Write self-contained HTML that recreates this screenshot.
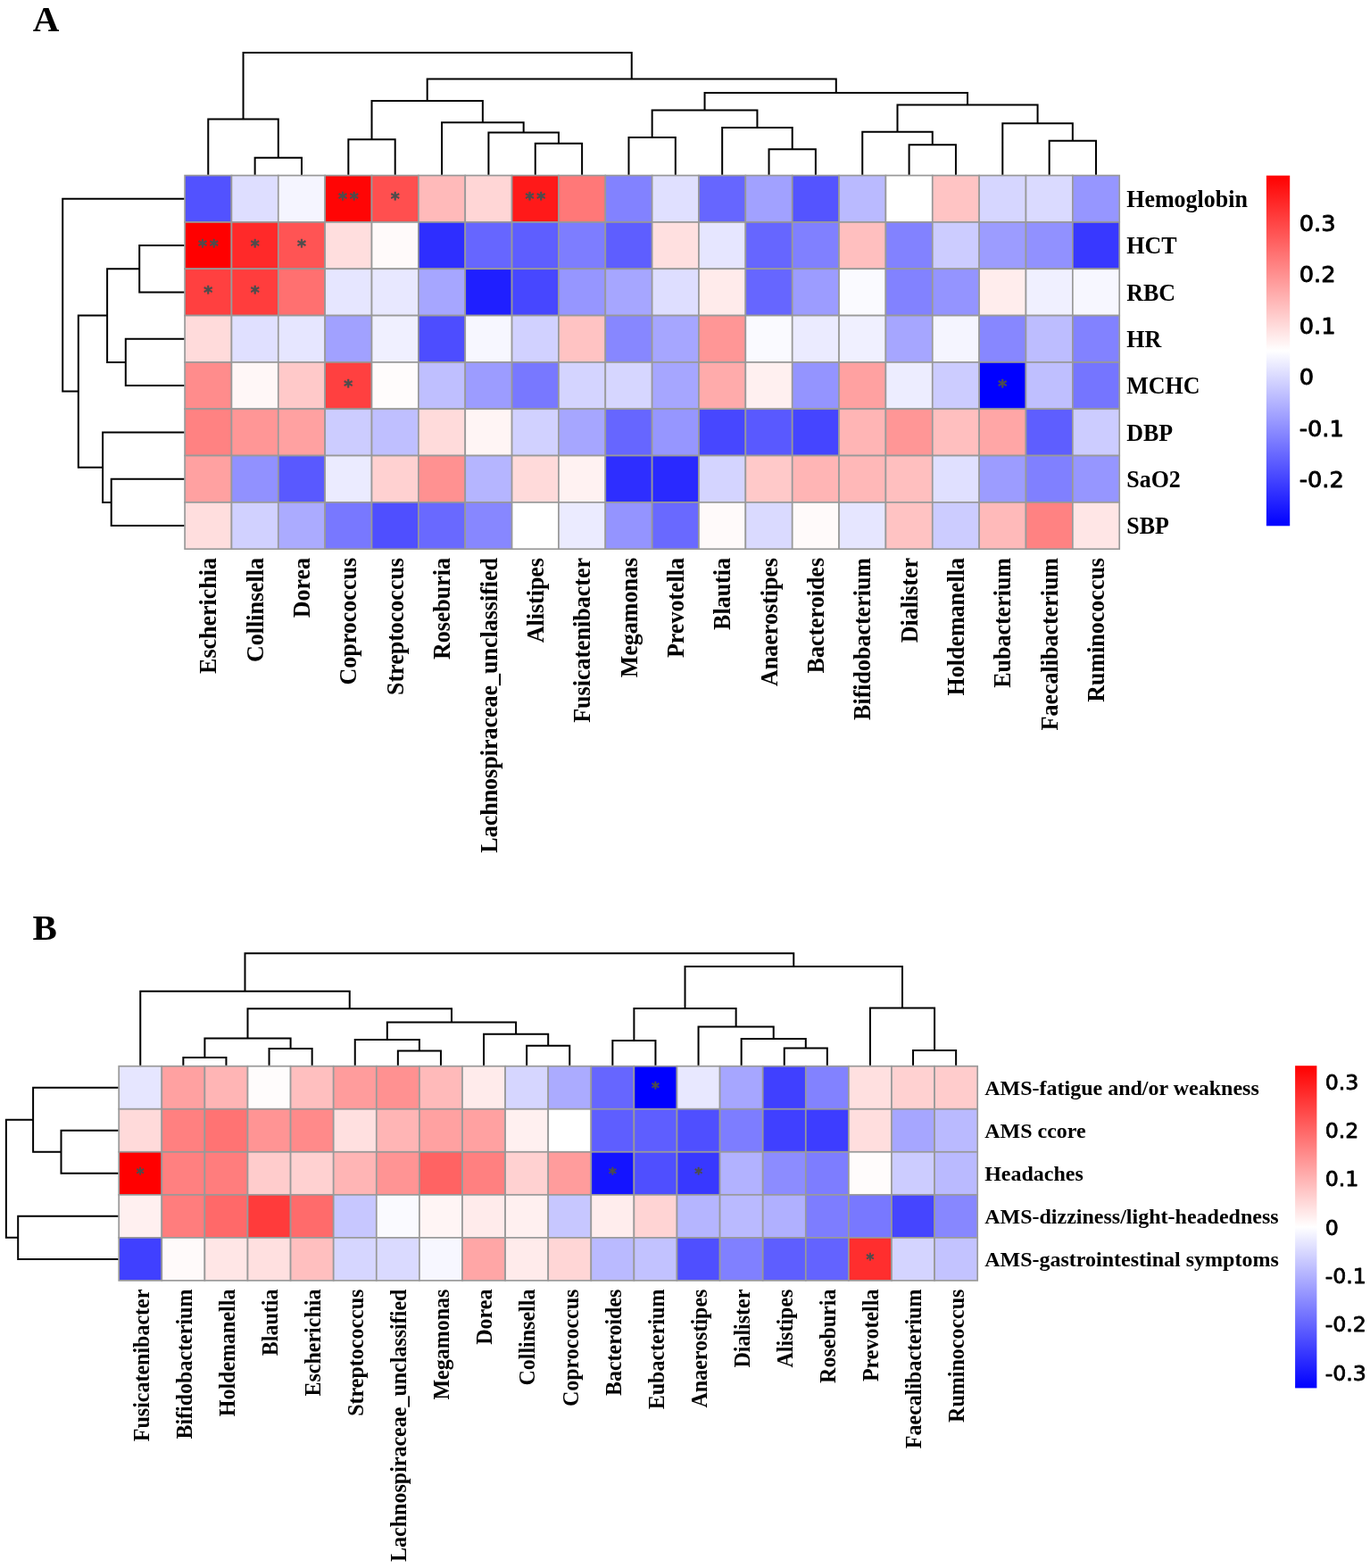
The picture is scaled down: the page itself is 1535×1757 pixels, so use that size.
<!DOCTYPE html>
<html lang="en">
<head>
<meta charset="utf-8">
<title>Correlation heatmaps</title>
<style>
html,body{margin:0;padding:0;background:#fff;}
body{width:1535px;height:1757px;overflow:hidden;}
svg{display:block;}
</style>
</head>
<body>
<svg width="1535" height="1757" viewBox="0 0 1535 1757" role="img" aria-label="Clustered correlation heatmaps, panels A and B">
<defs>
<linearGradient id="gA" x1="0" y1="0" x2="0" y2="1"><stop offset="0" stop-color="#ff0000"/><stop offset="0.5" stop-color="#ffffff"/><stop offset="1" stop-color="#0000ff"/></linearGradient>
<linearGradient id="gB" x1="0" y1="0" x2="0" y2="1"><stop offset="0" stop-color="#ff0000"/><stop offset="0.5" stop-color="#ffffff"/><stop offset="1" stop-color="#0000ff"/></linearGradient>
</defs>
<rect width="1535" height="1757" fill="#fff"/>
<g id="panelA">
<g stroke="#999999" stroke-width="1.7">
<rect x="207.1" y="196.6" width="52.36" height="52.33" fill="#5252ff"/>
<rect x="259.45" y="196.6" width="52.36" height="52.33" fill="#dedeff"/>
<rect x="311.81" y="196.6" width="52.36" height="52.33" fill="#f5f5ff"/>
<rect x="364.16" y="196.6" width="52.36" height="52.33" fill="#ff0505"/>
<rect x="416.52" y="196.6" width="52.36" height="52.33" fill="#ff4f4f"/>
<rect x="468.88" y="196.6" width="52.36" height="52.33" fill="#ffbaba"/>
<rect x="521.23" y="196.6" width="52.36" height="52.33" fill="#ffd6d6"/>
<rect x="573.59" y="196.6" width="52.36" height="52.33" fill="#ff1919"/>
<rect x="625.94" y="196.6" width="52.36" height="52.33" fill="#ff7878"/>
<rect x="678.3" y="196.6" width="52.36" height="52.33" fill="#8282ff"/>
<rect x="730.65" y="196.6" width="52.36" height="52.33" fill="#e0e0ff"/>
<rect x="783.01" y="196.6" width="52.36" height="52.33" fill="#6666ff"/>
<rect x="835.36" y="196.6" width="52.36" height="52.33" fill="#a1a1ff"/>
<rect x="887.72" y="196.6" width="52.36" height="52.33" fill="#5454ff"/>
<rect x="940.07" y="196.6" width="52.36" height="52.33" fill="#babaff"/>
<rect x="992.43" y="196.6" width="52.36" height="52.33" fill="#ffffff"/>
<rect x="1044.78" y="196.6" width="52.36" height="52.33" fill="#ffc4c4"/>
<rect x="1097.13" y="196.6" width="52.36" height="52.33" fill="#d6d6ff"/>
<rect x="1149.49" y="196.6" width="52.36" height="52.33" fill="#dadaff"/>
<rect x="1201.85" y="196.6" width="52.36" height="52.33" fill="#9696ff"/>
<rect x="207.1" y="248.93" width="52.36" height="52.33" fill="#ff0000"/>
<rect x="259.45" y="248.93" width="52.36" height="52.33" fill="#ff2929"/>
<rect x="311.81" y="248.93" width="52.36" height="52.33" fill="#ff5454"/>
<rect x="364.16" y="248.93" width="52.36" height="52.33" fill="#ffdede"/>
<rect x="416.52" y="248.93" width="52.36" height="52.33" fill="#fffafa"/>
<rect x="468.88" y="248.93" width="52.36" height="52.33" fill="#2e2eff"/>
<rect x="521.23" y="248.93" width="52.36" height="52.33" fill="#6666ff"/>
<rect x="573.59" y="248.93" width="52.36" height="52.33" fill="#5e5eff"/>
<rect x="625.94" y="248.93" width="52.36" height="52.33" fill="#7d7dff"/>
<rect x="678.3" y="248.93" width="52.36" height="52.33" fill="#5e5eff"/>
<rect x="730.65" y="248.93" width="52.36" height="52.33" fill="#ffe0e0"/>
<rect x="783.01" y="248.93" width="52.36" height="52.33" fill="#e6e6ff"/>
<rect x="835.36" y="248.93" width="52.36" height="52.33" fill="#6666ff"/>
<rect x="887.72" y="248.93" width="52.36" height="52.33" fill="#8080ff"/>
<rect x="940.07" y="248.93" width="52.36" height="52.33" fill="#ffbfbf"/>
<rect x="992.43" y="248.93" width="52.36" height="52.33" fill="#8282ff"/>
<rect x="1044.78" y="248.93" width="52.36" height="52.33" fill="#ccccff"/>
<rect x="1097.13" y="248.93" width="52.36" height="52.33" fill="#9c9cff"/>
<rect x="1149.49" y="248.93" width="52.36" height="52.33" fill="#9191ff"/>
<rect x="1201.85" y="248.93" width="52.36" height="52.33" fill="#3838ff"/>
<rect x="207.1" y="301.25" width="52.36" height="52.33" fill="#ff4040"/>
<rect x="259.45" y="301.25" width="52.36" height="52.33" fill="#ff3d3d"/>
<rect x="311.81" y="301.25" width="52.36" height="52.33" fill="#ff7070"/>
<rect x="364.16" y="301.25" width="52.36" height="52.33" fill="#e6e6ff"/>
<rect x="416.52" y="301.25" width="52.36" height="52.33" fill="#e8e8ff"/>
<rect x="468.88" y="301.25" width="52.36" height="52.33" fill="#a6a6ff"/>
<rect x="521.23" y="301.25" width="52.36" height="52.33" fill="#1f1fff"/>
<rect x="573.59" y="301.25" width="52.36" height="52.33" fill="#4747ff"/>
<rect x="625.94" y="301.25" width="52.36" height="52.33" fill="#9696ff"/>
<rect x="678.3" y="301.25" width="52.36" height="52.33" fill="#a6a6ff"/>
<rect x="730.65" y="301.25" width="52.36" height="52.33" fill="#dedeff"/>
<rect x="783.01" y="301.25" width="52.36" height="52.33" fill="#ffebeb"/>
<rect x="835.36" y="301.25" width="52.36" height="52.33" fill="#6666ff"/>
<rect x="887.72" y="301.25" width="52.36" height="52.33" fill="#9c9cff"/>
<rect x="940.07" y="301.25" width="52.36" height="52.33" fill="#fafaff"/>
<rect x="992.43" y="301.25" width="52.36" height="52.33" fill="#8282ff"/>
<rect x="1044.78" y="301.25" width="52.36" height="52.33" fill="#9494ff"/>
<rect x="1097.13" y="301.25" width="52.36" height="52.33" fill="#ffeded"/>
<rect x="1149.49" y="301.25" width="52.36" height="52.33" fill="#f0f0ff"/>
<rect x="1201.85" y="301.25" width="52.36" height="52.33" fill="#f7f7ff"/>
<rect x="207.1" y="353.58" width="52.36" height="52.33" fill="#ffdbdb"/>
<rect x="259.45" y="353.58" width="52.36" height="52.33" fill="#e0e0ff"/>
<rect x="311.81" y="353.58" width="52.36" height="52.33" fill="#e6e6ff"/>
<rect x="364.16" y="353.58" width="52.36" height="52.33" fill="#a1a1ff"/>
<rect x="416.52" y="353.58" width="52.36" height="52.33" fill="#f0f0ff"/>
<rect x="468.88" y="353.58" width="52.36" height="52.33" fill="#4d4dff"/>
<rect x="521.23" y="353.58" width="52.36" height="52.33" fill="#f7f7ff"/>
<rect x="573.59" y="353.58" width="52.36" height="52.33" fill="#d1d1ff"/>
<rect x="625.94" y="353.58" width="52.36" height="52.33" fill="#ffc3c3"/>
<rect x="678.3" y="353.58" width="52.36" height="52.33" fill="#8787ff"/>
<rect x="730.65" y="353.58" width="52.36" height="52.33" fill="#a6a6ff"/>
<rect x="783.01" y="353.58" width="52.36" height="52.33" fill="#ff9696"/>
<rect x="835.36" y="353.58" width="52.36" height="52.33" fill="#fafaff"/>
<rect x="887.72" y="353.58" width="52.36" height="52.33" fill="#ebebff"/>
<rect x="940.07" y="353.58" width="52.36" height="52.33" fill="#f0f0ff"/>
<rect x="992.43" y="353.58" width="52.36" height="52.33" fill="#a6a6ff"/>
<rect x="1044.78" y="353.58" width="52.36" height="52.33" fill="#f5f5ff"/>
<rect x="1097.13" y="353.58" width="52.36" height="52.33" fill="#8787ff"/>
<rect x="1149.49" y="353.58" width="52.36" height="52.33" fill="#bdbdff"/>
<rect x="1201.85" y="353.58" width="52.36" height="52.33" fill="#8282ff"/>
<rect x="207.1" y="405.9" width="52.36" height="52.33" fill="#ff8c8c"/>
<rect x="259.45" y="405.9" width="52.36" height="52.33" fill="#fff7f7"/>
<rect x="311.81" y="405.9" width="52.36" height="52.33" fill="#ffc9c9"/>
<rect x="364.16" y="405.9" width="52.36" height="52.33" fill="#ff4040"/>
<rect x="416.52" y="405.9" width="52.36" height="52.33" fill="#fffcfc"/>
<rect x="468.88" y="405.9" width="52.36" height="52.33" fill="#bfbfff"/>
<rect x="521.23" y="405.9" width="52.36" height="52.33" fill="#9c9cff"/>
<rect x="573.59" y="405.9" width="52.36" height="52.33" fill="#7878ff"/>
<rect x="625.94" y="405.9" width="52.36" height="52.33" fill="#d4d4ff"/>
<rect x="678.3" y="405.9" width="52.36" height="52.33" fill="#d6d6ff"/>
<rect x="730.65" y="405.9" width="52.36" height="52.33" fill="#a6a6ff"/>
<rect x="783.01" y="405.9" width="52.36" height="52.33" fill="#ffabab"/>
<rect x="835.36" y="405.9" width="52.36" height="52.33" fill="#fff0f0"/>
<rect x="887.72" y="405.9" width="52.36" height="52.33" fill="#9494ff"/>
<rect x="940.07" y="405.9" width="52.36" height="52.33" fill="#ffa1a1"/>
<rect x="992.43" y="405.9" width="52.36" height="52.33" fill="#ededff"/>
<rect x="1044.78" y="405.9" width="52.36" height="52.33" fill="#ccccff"/>
<rect x="1097.13" y="405.9" width="52.36" height="52.33" fill="#0000ff"/>
<rect x="1149.49" y="405.9" width="52.36" height="52.33" fill="#bfbfff"/>
<rect x="1201.85" y="405.9" width="52.36" height="52.33" fill="#7575ff"/>
<rect x="207.1" y="458.23" width="52.36" height="52.33" fill="#ff8282"/>
<rect x="259.45" y="458.23" width="52.36" height="52.33" fill="#ff9696"/>
<rect x="311.81" y="458.23" width="52.36" height="52.33" fill="#ffa1a1"/>
<rect x="364.16" y="458.23" width="52.36" height="52.33" fill="#ccccff"/>
<rect x="416.52" y="458.23" width="52.36" height="52.33" fill="#bfbfff"/>
<rect x="468.88" y="458.23" width="52.36" height="52.33" fill="#ffdbdb"/>
<rect x="521.23" y="458.23" width="52.36" height="52.33" fill="#fff5f5"/>
<rect x="573.59" y="458.23" width="52.36" height="52.33" fill="#d1d1ff"/>
<rect x="625.94" y="458.23" width="52.36" height="52.33" fill="#a6a6ff"/>
<rect x="678.3" y="458.23" width="52.36" height="52.33" fill="#6666ff"/>
<rect x="730.65" y="458.23" width="52.36" height="52.33" fill="#9696ff"/>
<rect x="783.01" y="458.23" width="52.36" height="52.33" fill="#4747ff"/>
<rect x="835.36" y="458.23" width="52.36" height="52.33" fill="#5959ff"/>
<rect x="887.72" y="458.23" width="52.36" height="52.33" fill="#4545ff"/>
<rect x="940.07" y="458.23" width="52.36" height="52.33" fill="#ffb5b5"/>
<rect x="992.43" y="458.23" width="52.36" height="52.33" fill="#ff9696"/>
<rect x="1044.78" y="458.23" width="52.36" height="52.33" fill="#ffbfbf"/>
<rect x="1097.13" y="458.23" width="52.36" height="52.33" fill="#ffa6a6"/>
<rect x="1149.49" y="458.23" width="52.36" height="52.33" fill="#5e5eff"/>
<rect x="1201.85" y="458.23" width="52.36" height="52.33" fill="#ccccff"/>
<rect x="207.1" y="510.55" width="52.36" height="52.33" fill="#ffa1a1"/>
<rect x="259.45" y="510.55" width="52.36" height="52.33" fill="#9191ff"/>
<rect x="311.81" y="510.55" width="52.36" height="52.33" fill="#5959ff"/>
<rect x="364.16" y="510.55" width="52.36" height="52.33" fill="#ebebff"/>
<rect x="416.52" y="510.55" width="52.36" height="52.33" fill="#ffd1d1"/>
<rect x="468.88" y="510.55" width="52.36" height="52.33" fill="#ff9191"/>
<rect x="521.23" y="510.55" width="52.36" height="52.33" fill="#b5b5ff"/>
<rect x="573.59" y="510.55" width="52.36" height="52.33" fill="#ffdada"/>
<rect x="625.94" y="510.55" width="52.36" height="52.33" fill="#fff2f2"/>
<rect x="678.3" y="510.55" width="52.36" height="52.33" fill="#2e2eff"/>
<rect x="730.65" y="510.55" width="52.36" height="52.33" fill="#2929ff"/>
<rect x="783.01" y="510.55" width="52.36" height="52.33" fill="#d4d4ff"/>
<rect x="835.36" y="510.55" width="52.36" height="52.33" fill="#ffc9c9"/>
<rect x="887.72" y="510.55" width="52.36" height="52.33" fill="#ffb5b5"/>
<rect x="940.07" y="510.55" width="52.36" height="52.33" fill="#ffb8b8"/>
<rect x="992.43" y="510.55" width="52.36" height="52.33" fill="#ffbfbf"/>
<rect x="1044.78" y="510.55" width="52.36" height="52.33" fill="#e0e0ff"/>
<rect x="1097.13" y="510.55" width="52.36" height="52.33" fill="#9c9cff"/>
<rect x="1149.49" y="510.55" width="52.36" height="52.33" fill="#8080ff"/>
<rect x="1201.85" y="510.55" width="52.36" height="52.33" fill="#9696ff"/>
<rect x="207.1" y="562.88" width="52.36" height="52.33" fill="#ffdede"/>
<rect x="259.45" y="562.88" width="52.36" height="52.33" fill="#d1d1ff"/>
<rect x="311.81" y="562.88" width="52.36" height="52.33" fill="#ababff"/>
<rect x="364.16" y="562.88" width="52.36" height="52.33" fill="#7878ff"/>
<rect x="416.52" y="562.88" width="52.36" height="52.33" fill="#4f4fff"/>
<rect x="468.88" y="562.88" width="52.36" height="52.33" fill="#6969ff"/>
<rect x="521.23" y="562.88" width="52.36" height="52.33" fill="#8787ff"/>
<rect x="573.59" y="562.88" width="52.36" height="52.33" fill="#ffffff"/>
<rect x="625.94" y="562.88" width="52.36" height="52.33" fill="#ebebff"/>
<rect x="678.3" y="562.88" width="52.36" height="52.33" fill="#9494ff"/>
<rect x="730.65" y="562.88" width="52.36" height="52.33" fill="#6969ff"/>
<rect x="783.01" y="562.88" width="52.36" height="52.33" fill="#fffafa"/>
<rect x="835.36" y="562.88" width="52.36" height="52.33" fill="#dadaff"/>
<rect x="887.72" y="562.88" width="52.36" height="52.33" fill="#fffafa"/>
<rect x="940.07" y="562.88" width="52.36" height="52.33" fill="#e6e6ff"/>
<rect x="992.43" y="562.88" width="52.36" height="52.33" fill="#ffc3c3"/>
<rect x="1044.78" y="562.88" width="52.36" height="52.33" fill="#ccccff"/>
<rect x="1097.13" y="562.88" width="52.36" height="52.33" fill="#ffbaba"/>
<rect x="1149.49" y="562.88" width="52.36" height="52.33" fill="#ff8282"/>
<rect x="1201.85" y="562.88" width="52.36" height="52.33" fill="#ffe6e6"/>
</g>
<g font-family="'DejaVu Sans', 'Liberation Sans', sans-serif" font-weight="bold" font-size="19" fill="#4d4d4d" stroke="#4d4d4d" stroke-width="0.6" stroke-linejoin="round" text-anchor="middle">
<text x="383.94 396.74" y="229.45">**</text>
<text x="442.7" y="229.45">*</text>
<text x="593.36 606.16" y="229.45">**</text>
<text x="226.88 239.68" y="281.78">**</text>
<text x="285.63" y="281.78">*</text>
<text x="337.99" y="281.78">*</text>
<text x="233.28" y="334.1">*</text>
<text x="285.63" y="334.1">*</text>
<text x="390.34" y="438.75">*</text>
<text x="1123.31" y="438.75">*</text>
</g>
<path d="M285.63 195.75V176.75H337.99V195.75M233.28 195.75V133.5H311.81V176.75M390.34 195.75V156.25H442.7V195.75M599.76 195.75V160.75H652.12V195.75M547.41 195.75V148.5H625.94V160.75M495.05 195.75V137.25H586.67V148.5M416.52 156.25V113H540.86V137.25M704.47 195.75V154H756.83V195.75M861.54 195.75V167.25H913.89V195.75M809.18 195.75V143H887.72V167.25M730.65 154V123.5H848.45V143M1018.6 195.75V162.25H1070.96V195.75M966.25 195.75V147.75H1044.78V162.25M1175.67 195.75V157.75H1228.02V195.75M1123.31 195.75V138.25H1201.85V157.75M1005.51 147.75V117.5H1162.58V138.25M789.55 123.5V104H1084.05V117.5M478.69 113V88.5H936.8V104M272.54 133.5V59H707.74V88.5M206.25 275.09H156.2V327.41H206.25M206.25 379.74H140.8V432.06H206.25M156.2 301.25H120.1V405.9H140.8M206.25 536.71H124.7V589.04H206.25M206.25 484.39H115.1V562.88H124.7M120.1 353.57H87.8V523.63H115.1M206.25 222.76H70.2V438.6H87.8" fill="none" stroke="#000" stroke-width="2.0" stroke-linejoin="miter"/>
<g font-family="'Liberation Serif', 'DejaVu Serif', serif" font-weight="bold" font-size="26.6" fill="#000">
<text transform="translate(1262.2 231.87) scale(0.977 1)">Hemoglobin</text>
<text transform="translate(1262.2 284.2) scale(0.977 1)">HCT</text>
<text transform="translate(1262.2 336.52) scale(0.977 1)">RBC</text>
<text transform="translate(1262.2 388.85) scale(0.977 1)">HR</text>
<text transform="translate(1262.2 441.17) scale(0.977 1)">MCHC</text>
<text transform="translate(1262.2 493.5) scale(0.977 1)">DBP</text>
<text transform="translate(1262.2 545.82) scale(0.977 1)">SaO2</text>
<text transform="translate(1262.2 598.15) scale(0.977 1)">SBP</text>
</g>
<g font-family="'Liberation Serif', 'DejaVu Serif', serif" font-weight="bold" font-size="27.2" fill="#000" text-anchor="end">
<text transform="translate(242.39 625) rotate(-90) scale(0.956 1)">Escherichia</text>
<text transform="translate(294.74 625) rotate(-90) scale(0.956 1)">Collinsella</text>
<text transform="translate(347.1 625) rotate(-90) scale(0.956 1)">Dorea</text>
<text transform="translate(399.45 625) rotate(-90) scale(0.956 1)">Coprococcus</text>
<text transform="translate(451.81 625) rotate(-90) scale(0.956 1)">Streptococcus</text>
<text transform="translate(504.16 625) rotate(-90) scale(0.956 1)">Roseburia</text>
<text transform="translate(556.52 625) rotate(-90) scale(0.956 1)">Lachnospiraceae_unclassified</text>
<text transform="translate(608.87 625) rotate(-90) scale(0.956 1)">Alistipes</text>
<text transform="translate(661.23 625) rotate(-90) scale(0.956 1)">Fusicatenibacter</text>
<text transform="translate(713.58 625) rotate(-90) scale(0.956 1)">Megamonas</text>
<text transform="translate(765.94 625) rotate(-90) scale(0.956 1)">Prevotella</text>
<text transform="translate(818.29 625) rotate(-90) scale(0.956 1)">Blautia</text>
<text transform="translate(870.65 625) rotate(-90) scale(0.956 1)">Anaerostipes</text>
<text transform="translate(923 625) rotate(-90) scale(0.956 1)">Bacteroides</text>
<text transform="translate(975.36 625) rotate(-90) scale(0.956 1)">Bifidobacterium</text>
<text transform="translate(1027.71 625) rotate(-90) scale(0.956 1)">Dialister</text>
<text transform="translate(1080.07 625) rotate(-90) scale(0.956 1)">Holdemanella</text>
<text transform="translate(1132.42 625) rotate(-90) scale(0.956 1)">Eubacterium</text>
<text transform="translate(1184.78 625) rotate(-90) scale(0.956 1)">Faecalibacterium</text>
<text transform="translate(1237.13 625) rotate(-90) scale(0.956 1)">Ruminococcus</text>
</g>
<rect x="1418.9" y="196.7" width="26.3" height="392.6" fill="url(#gA)"/>
<g font-family="'DejaVu Sans', 'Liberation Sans', sans-serif" font-size="24" fill="#000" stroke="#000" stroke-width="0.8" stroke-linejoin="round">
<text transform="translate(1455.7 258.95) scale(1.07 1)">0.3</text>
<text transform="translate(1455.7 316.35) scale(1.07 1)">0.2</text>
<text transform="translate(1455.7 373.75) scale(1.07 1)">0.1</text>
<text transform="translate(1455.7 431.05) scale(1.07 1)">0</text>
<text transform="translate(1455.7 489.05) scale(1.07 1)">-0.1</text>
<text transform="translate(1455.7 546.05) scale(1.07 1)">-0.2</text>
</g>
<text x="36.8" y="34.7" font-family="'Liberation Serif', 'DejaVu Serif', serif" font-weight="bold" font-size="41" fill="#000">A</text>
</g>
<g id="panelB">
<g stroke="#999999" stroke-width="1.7">
<rect x="133.2" y="1194.7" width="48.1" height="48.04" fill="#e6e6ff"/>
<rect x="181.3" y="1194.7" width="48.1" height="48.04" fill="#ffa1a1"/>
<rect x="229.4" y="1194.7" width="48.1" height="48.04" fill="#ffb5b5"/>
<rect x="277.5" y="1194.7" width="48.1" height="48.04" fill="#fffcfc"/>
<rect x="325.6" y="1194.7" width="48.1" height="48.04" fill="#ffbfbf"/>
<rect x="373.7" y="1194.7" width="48.1" height="48.04" fill="#ff9c9c"/>
<rect x="421.8" y="1194.7" width="48.1" height="48.04" fill="#ff9191"/>
<rect x="469.9" y="1194.7" width="48.1" height="48.04" fill="#ffbaba"/>
<rect x="518" y="1194.7" width="48.1" height="48.04" fill="#ffebeb"/>
<rect x="566.1" y="1194.7" width="48.1" height="48.04" fill="#d6d6ff"/>
<rect x="614.2" y="1194.7" width="48.1" height="48.04" fill="#ababff"/>
<rect x="662.3" y="1194.7" width="48.1" height="48.04" fill="#6666ff"/>
<rect x="710.4" y="1194.7" width="48.1" height="48.04" fill="#0000ff"/>
<rect x="758.5" y="1194.7" width="48.1" height="48.04" fill="#e8e8ff"/>
<rect x="806.6" y="1194.7" width="48.1" height="48.04" fill="#a6a6ff"/>
<rect x="854.7" y="1194.7" width="48.1" height="48.04" fill="#4040ff"/>
<rect x="902.8" y="1194.7" width="48.1" height="48.04" fill="#8282ff"/>
<rect x="950.9" y="1194.7" width="48.1" height="48.04" fill="#ffe0e0"/>
<rect x="999" y="1194.7" width="48.1" height="48.04" fill="#ffd1d1"/>
<rect x="1047.1" y="1194.7" width="48.1" height="48.04" fill="#ffcccc"/>
<rect x="133.2" y="1242.74" width="48.1" height="48.04" fill="#ffdada"/>
<rect x="181.3" y="1242.74" width="48.1" height="48.04" fill="#ff8080"/>
<rect x="229.4" y="1242.74" width="48.1" height="48.04" fill="#ff7373"/>
<rect x="277.5" y="1242.74" width="48.1" height="48.04" fill="#ff9494"/>
<rect x="325.6" y="1242.74" width="48.1" height="48.04" fill="#ff8a8a"/>
<rect x="373.7" y="1242.74" width="48.1" height="48.04" fill="#ffe0e0"/>
<rect x="421.8" y="1242.74" width="48.1" height="48.04" fill="#ffb5b5"/>
<rect x="469.9" y="1242.74" width="48.1" height="48.04" fill="#ffa1a1"/>
<rect x="518" y="1242.74" width="48.1" height="48.04" fill="#ffa1a1"/>
<rect x="566.1" y="1242.74" width="48.1" height="48.04" fill="#fff0f0"/>
<rect x="614.2" y="1242.74" width="48.1" height="48.04" fill="#ffffff"/>
<rect x="662.3" y="1242.74" width="48.1" height="48.04" fill="#5e5eff"/>
<rect x="710.4" y="1242.74" width="48.1" height="48.04" fill="#5e5eff"/>
<rect x="758.5" y="1242.74" width="48.1" height="48.04" fill="#4f4fff"/>
<rect x="806.6" y="1242.74" width="48.1" height="48.04" fill="#7d7dff"/>
<rect x="854.7" y="1242.74" width="48.1" height="48.04" fill="#4040ff"/>
<rect x="902.8" y="1242.74" width="48.1" height="48.04" fill="#3d3dff"/>
<rect x="950.9" y="1242.74" width="48.1" height="48.04" fill="#ffdede"/>
<rect x="999" y="1242.74" width="48.1" height="48.04" fill="#a6a6ff"/>
<rect x="1047.1" y="1242.74" width="48.1" height="48.04" fill="#babaff"/>
<rect x="133.2" y="1290.78" width="48.1" height="48.04" fill="#ff0000"/>
<rect x="181.3" y="1290.78" width="48.1" height="48.04" fill="#ff8080"/>
<rect x="229.4" y="1290.78" width="48.1" height="48.04" fill="#ff7d7d"/>
<rect x="277.5" y="1290.78" width="48.1" height="48.04" fill="#ffcccc"/>
<rect x="325.6" y="1290.78" width="48.1" height="48.04" fill="#ffd1d1"/>
<rect x="373.7" y="1290.78" width="48.1" height="48.04" fill="#ffb5b5"/>
<rect x="421.8" y="1290.78" width="48.1" height="48.04" fill="#ff9494"/>
<rect x="469.9" y="1290.78" width="48.1" height="48.04" fill="#ff6363"/>
<rect x="518" y="1290.78" width="48.1" height="48.04" fill="#ff8080"/>
<rect x="566.1" y="1290.78" width="48.1" height="48.04" fill="#ffd1d1"/>
<rect x="614.2" y="1290.78" width="48.1" height="48.04" fill="#ff9c9c"/>
<rect x="662.3" y="1290.78" width="48.1" height="48.04" fill="#1414ff"/>
<rect x="710.4" y="1290.78" width="48.1" height="48.04" fill="#4f4fff"/>
<rect x="758.5" y="1290.78" width="48.1" height="48.04" fill="#3838ff"/>
<rect x="806.6" y="1290.78" width="48.1" height="48.04" fill="#b2b2ff"/>
<rect x="854.7" y="1290.78" width="48.1" height="48.04" fill="#8c8cff"/>
<rect x="902.8" y="1290.78" width="48.1" height="48.04" fill="#7d7dff"/>
<rect x="950.9" y="1290.78" width="48.1" height="48.04" fill="#fffcfc"/>
<rect x="999" y="1290.78" width="48.1" height="48.04" fill="#ccccff"/>
<rect x="1047.1" y="1290.78" width="48.1" height="48.04" fill="#babaff"/>
<rect x="133.2" y="1338.82" width="48.1" height="48.04" fill="#fff0f0"/>
<rect x="181.3" y="1338.82" width="48.1" height="48.04" fill="#ff7d7d"/>
<rect x="229.4" y="1338.82" width="48.1" height="48.04" fill="#ff6969"/>
<rect x="277.5" y="1338.82" width="48.1" height="48.04" fill="#ff3b3b"/>
<rect x="325.6" y="1338.82" width="48.1" height="48.04" fill="#ff6b6b"/>
<rect x="373.7" y="1338.82" width="48.1" height="48.04" fill="#c7c7ff"/>
<rect x="421.8" y="1338.82" width="48.1" height="48.04" fill="#fafaff"/>
<rect x="469.9" y="1338.82" width="48.1" height="48.04" fill="#fff5f5"/>
<rect x="518" y="1338.82" width="48.1" height="48.04" fill="#ffebeb"/>
<rect x="566.1" y="1338.82" width="48.1" height="48.04" fill="#fff0f0"/>
<rect x="614.2" y="1338.82" width="48.1" height="48.04" fill="#c7c7ff"/>
<rect x="662.3" y="1338.82" width="48.1" height="48.04" fill="#ffeded"/>
<rect x="710.4" y="1338.82" width="48.1" height="48.04" fill="#ffd4d4"/>
<rect x="758.5" y="1338.82" width="48.1" height="48.04" fill="#b5b5ff"/>
<rect x="806.6" y="1338.82" width="48.1" height="48.04" fill="#babaff"/>
<rect x="854.7" y="1338.82" width="48.1" height="48.04" fill="#b0b0ff"/>
<rect x="902.8" y="1338.82" width="48.1" height="48.04" fill="#7d7dff"/>
<rect x="950.9" y="1338.82" width="48.1" height="48.04" fill="#7878ff"/>
<rect x="999" y="1338.82" width="48.1" height="48.04" fill="#4545ff"/>
<rect x="1047.1" y="1338.82" width="48.1" height="48.04" fill="#8787ff"/>
<rect x="133.2" y="1386.86" width="48.1" height="48.04" fill="#4040ff"/>
<rect x="181.3" y="1386.86" width="48.1" height="48.04" fill="#fffafa"/>
<rect x="229.4" y="1386.86" width="48.1" height="48.04" fill="#ffe6e6"/>
<rect x="277.5" y="1386.86" width="48.1" height="48.04" fill="#ffe0e0"/>
<rect x="325.6" y="1386.86" width="48.1" height="48.04" fill="#ffbfbf"/>
<rect x="373.7" y="1386.86" width="48.1" height="48.04" fill="#d6d6ff"/>
<rect x="421.8" y="1386.86" width="48.1" height="48.04" fill="#dadaff"/>
<rect x="469.9" y="1386.86" width="48.1" height="48.04" fill="#f7f7ff"/>
<rect x="518" y="1386.86" width="48.1" height="48.04" fill="#ffa6a6"/>
<rect x="566.1" y="1386.86" width="48.1" height="48.04" fill="#ffebeb"/>
<rect x="614.2" y="1386.86" width="48.1" height="48.04" fill="#ffd6d6"/>
<rect x="662.3" y="1386.86" width="48.1" height="48.04" fill="#babaff"/>
<rect x="710.4" y="1386.86" width="48.1" height="48.04" fill="#c2c2ff"/>
<rect x="758.5" y="1386.86" width="48.1" height="48.04" fill="#4f4fff"/>
<rect x="806.6" y="1386.86" width="48.1" height="48.04" fill="#8080ff"/>
<rect x="854.7" y="1386.86" width="48.1" height="48.04" fill="#5e5eff"/>
<rect x="902.8" y="1386.86" width="48.1" height="48.04" fill="#6363ff"/>
<rect x="950.9" y="1386.86" width="48.1" height="48.04" fill="#ff2e2e"/>
<rect x="999" y="1386.86" width="48.1" height="48.04" fill="#d4d4ff"/>
<rect x="1047.1" y="1386.86" width="48.1" height="48.04" fill="#c3c3ff"/>
</g>
<g font-family="'DejaVu Sans', 'Liberation Sans', sans-serif" font-weight="bold" font-size="16.8" fill="#4d4d4d" stroke="#4d4d4d" stroke-width="0.55" stroke-linejoin="round" text-anchor="middle">
<text x="734.45" y="1224.69">*</text>
<text x="157.25" y="1320.77">*</text>
<text x="686.35" y="1320.77">*</text>
<text x="782.55" y="1320.77">*</text>
<text x="974.95" y="1416.85">*</text>
</g>
<path d="M205.35 1193.85V1185H253.45V1193.85M301.55 1193.85V1175H349.65V1193.85M229.4 1185V1163.5H325.6V1175M445.85 1193.85V1177.5H493.95V1193.85M397.75 1193.85V1165H469.9V1177.5M590.15 1193.85V1171.75H638.25V1193.85M542.05 1193.85V1158.75H614.2V1171.75M433.82 1165V1145.5H578.12V1158.75M277.5 1163.5V1130.25H505.98V1145.5M157.25 1193.85V1110.75H391.74V1130.25M686.35 1193.85V1166H734.45V1193.85M878.75 1193.85V1174.5H926.85V1193.85M830.65 1193.85V1164H902.8V1174.5M782.55 1193.85V1150.5H866.73V1164M710.4 1166V1130H824.64V1150.5M1023.05 1193.85V1177H1071.15V1193.85M974.95 1193.85V1129.5H1047.1V1177M767.52 1130V1083H1011.02V1129.5M274.49 1110.75V1068.25H889.27V1083M132.35 1266.76H68.5V1314.8H132.35M132.35 1218.72H37.1V1290.78H68.5M132.35 1362.84H20.2V1410.88H132.35M37.1 1254.75H6.85V1386.86H20.2" fill="none" stroke="#000" stroke-width="2.0" stroke-linejoin="miter"/>
<g font-family="'Liberation Serif', 'DejaVu Serif', serif" font-weight="bold" font-size="24" fill="#000">
<text transform="translate(1103.2 1226.58) scale(1 1)">AMS-fatigue and/or weakness</text>
<text transform="translate(1103.2 1274.62) scale(1 1)">AMS ccore</text>
<text transform="translate(1103.2 1322.66) scale(1 1)">Headaches</text>
<text transform="translate(1103.2 1370.7) scale(1 1)">AMS-dizziness/light-headedness</text>
<text transform="translate(1103.2 1418.74) scale(1 1)">AMS-gastrointestinal symptoms</text>
</g>
<g font-family="'Liberation Serif', 'DejaVu Serif', serif" font-weight="bold" font-size="25.4" fill="#000" text-anchor="end">
<text transform="translate(166.57 1444.6) rotate(-90) scale(0.945 1)">Fusicatenibacter</text>
<text transform="translate(214.67 1444.6) rotate(-90) scale(0.945 1)">Bifidobacterium</text>
<text transform="translate(262.77 1444.6) rotate(-90) scale(0.945 1)">Holdemanella</text>
<text transform="translate(310.87 1444.6) rotate(-90) scale(0.945 1)">Blautia</text>
<text transform="translate(358.97 1444.6) rotate(-90) scale(0.945 1)">Escherichia</text>
<text transform="translate(407.07 1444.6) rotate(-90) scale(0.945 1)">Streptococcus</text>
<text transform="translate(455.17 1444.6) rotate(-90) scale(0.945 1)">Lachnospiraceae_unclassified</text>
<text transform="translate(503.27 1444.6) rotate(-90) scale(0.945 1)">Megamonas</text>
<text transform="translate(551.37 1444.6) rotate(-90) scale(0.945 1)">Dorea</text>
<text transform="translate(599.47 1444.6) rotate(-90) scale(0.945 1)">Collinsella</text>
<text transform="translate(647.57 1444.6) rotate(-90) scale(0.945 1)">Coprococcus</text>
<text transform="translate(695.67 1444.6) rotate(-90) scale(0.945 1)">Bacteroides</text>
<text transform="translate(743.77 1444.6) rotate(-90) scale(0.945 1)">Eubacterium</text>
<text transform="translate(791.87 1444.6) rotate(-90) scale(0.945 1)">Anaerostipes</text>
<text transform="translate(839.97 1444.6) rotate(-90) scale(0.945 1)">Dialister</text>
<text transform="translate(888.07 1444.6) rotate(-90) scale(0.945 1)">Alistipes</text>
<text transform="translate(936.17 1444.6) rotate(-90) scale(0.945 1)">Roseburia</text>
<text transform="translate(984.27 1444.6) rotate(-90) scale(0.945 1)">Prevotella</text>
<text transform="translate(1032.37 1444.6) rotate(-90) scale(0.945 1)">Faecalibacterium</text>
<text transform="translate(1080.47 1444.6) rotate(-90) scale(0.945 1)">Ruminococcus</text>
</g>
<rect x="1451.1" y="1194.2" width="24.3" height="361.2" fill="url(#gB)"/>
<g font-family="'DejaVu Sans', 'Liberation Sans', sans-serif" font-size="22.8" fill="#000" stroke="#000" stroke-width="0.75" stroke-linejoin="round">
<text transform="translate(1484.7 1220.71) scale(1.04 1)">0.3</text>
<text transform="translate(1484.7 1275.11) scale(1.04 1)">0.2</text>
<text transform="translate(1484.7 1329.21) scale(1.04 1)">0.1</text>
<text transform="translate(1484.7 1383.51) scale(1.04 1)">0</text>
<text transform="translate(1484.7 1437.81) scale(1.04 1)">-0.1</text>
<text transform="translate(1484.7 1492.31) scale(1.04 1)">-0.2</text>
<text transform="translate(1484.7 1546.51) scale(1.04 1)">-0.3</text>
</g>
<text x="36.6" y="1052.9" font-family="'Liberation Serif', 'DejaVu Serif', serif" font-weight="bold" font-size="41" fill="#000">B</text>
</g>
</svg>
</body>
</html>
